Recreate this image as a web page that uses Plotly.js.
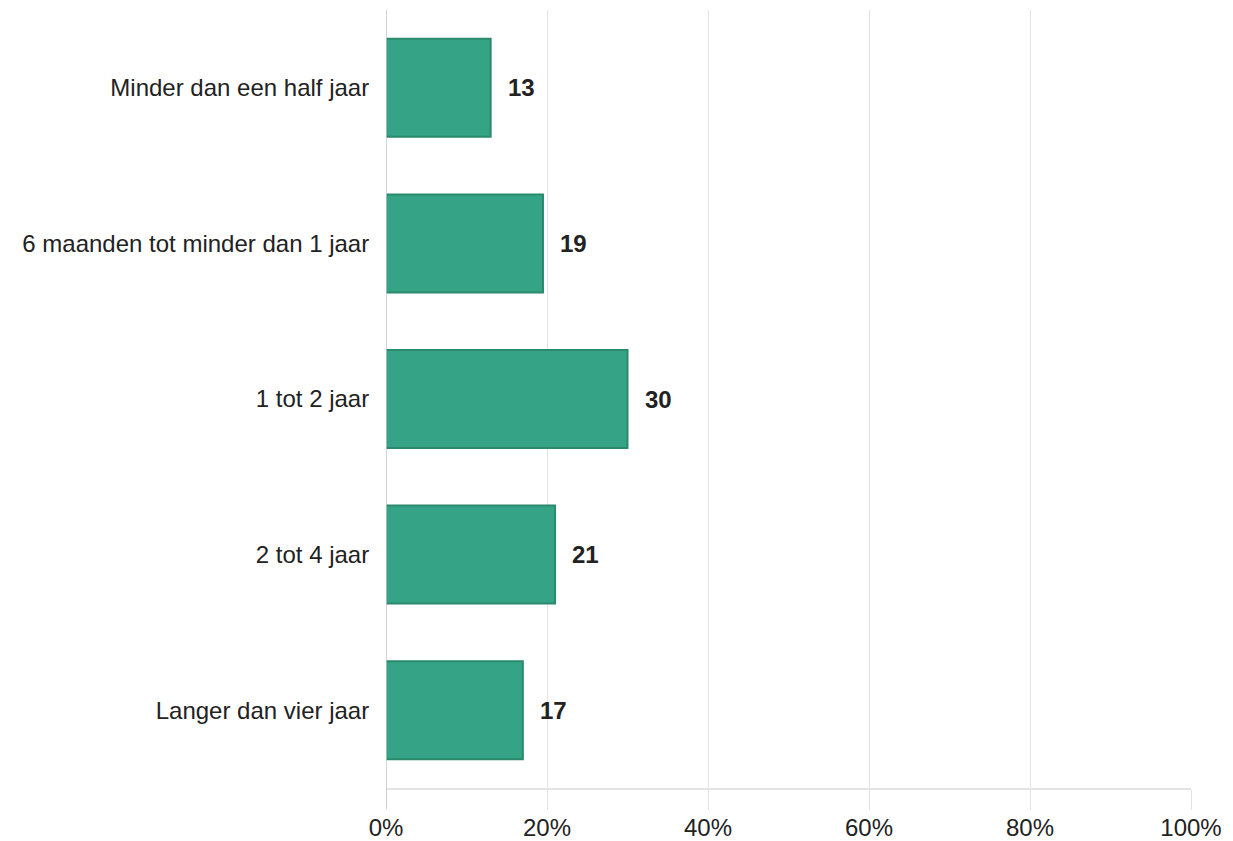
<!DOCTYPE html>
<html>
<head>
<meta charset="utf-8">
<script src="https://cdn.plot.ly/plotly-3.0.1.min.js"></script>
<style>html,body{margin:0;padding:0;background:#fff;}#chart{width:1233px;height:841px;}</style>
</head>
<body>
<div id="chart"></div>
<script>
const categories = ["Minder dan een half jaar", "6 maanden tot minder dan 1 jaar", "1 tot 2 jaar", "2 tot 4 jaar", "Langer dan vier jaar"];
const barValues = [13, 19.5, 30, 21, 17];
const labelValues = [13, 19, 30, 21, 17];
const tickValues = [0, 20, 40, 60, 80, 100];
const tickLabels = ["0%", "20%", "40%", "60%", "80%", "100%"];

const FONT = "Liberation Sans, Arial, sans-serif";

const trace = {
  type: "bar",
  orientation: "h",
  x: barValues,
  y: categories,
  width: 0.63,
  marker: { color: "#35a386", line: { color: "#2b8a6c", width: 2 } },
  hoverinfo: "none"
};

const annotations = categories.map((c, i) => ({
  x: barValues[i], y: c, xref: "x", yref: "y",
  text: "<b>" + labelValues[i] + "</b>",
  showarrow: false, xanchor: "left", xshift: 15,
  font: { family: FONT, size: 24, color: "#222222" }
}));

const layout = {
  width: 1233, height: 841,
  margin: { l: 386, r: 42, t: 10, b: 53 },
  paper_bgcolor: "#ffffff", plot_bgcolor: "#ffffff",
  showlegend: false,
  font: { family: FONT, size: 24, color: "#222222" },
  xaxis: {
    range: [0, 100], tickvals: tickValues, ticktext: tickLabels,
    showgrid: true, gridcolor: "#e3e3e3", gridwidth: 1,
    zeroline: false,
    showline: true, linecolor: "#e3e3e3", linewidth: 2,
    ticks: "outside", ticklen: 20, tickcolor: "#e3e3e3", tickwidth: 1,
    ticklabelstandoff: -3,
    tickfont: { family: FONT, size: 24, color: "#222222" },
    fixedrange: true
  },
  yaxis: {
    categoryorder: "array", categoryarray: categories.slice().reverse(),
    range: [-0.5, 4.5], autorange: false,
    showgrid: false, zeroline: false, showline: false,
    ticks: "outside", ticklen: 11, tickcolor: "rgba(0,0,0,0)",
    tickfont: { family: FONT, size: 24, color: "#222222" },
    fixedrange: true
  },
  shapes: [{
    type: "line", xref: "x", yref: "paper", x0: 0, x1: 0, y0: 0, y1: 1,
    line: { color: "#c6c6c6", width: 1.5 }
  }, {
    type: "line", xref: "x", yref: "paper", x0: 0, x1: 0, y0: 0, y1: -0.026,
    line: { color: "#c6c6c6", width: 1.5 }
  }],
  annotations: annotations
};

Plotly.newPlot("chart", [trace], layout, { displayModeBar: false, staticPlot: true });
</script>
</body>
</html>
